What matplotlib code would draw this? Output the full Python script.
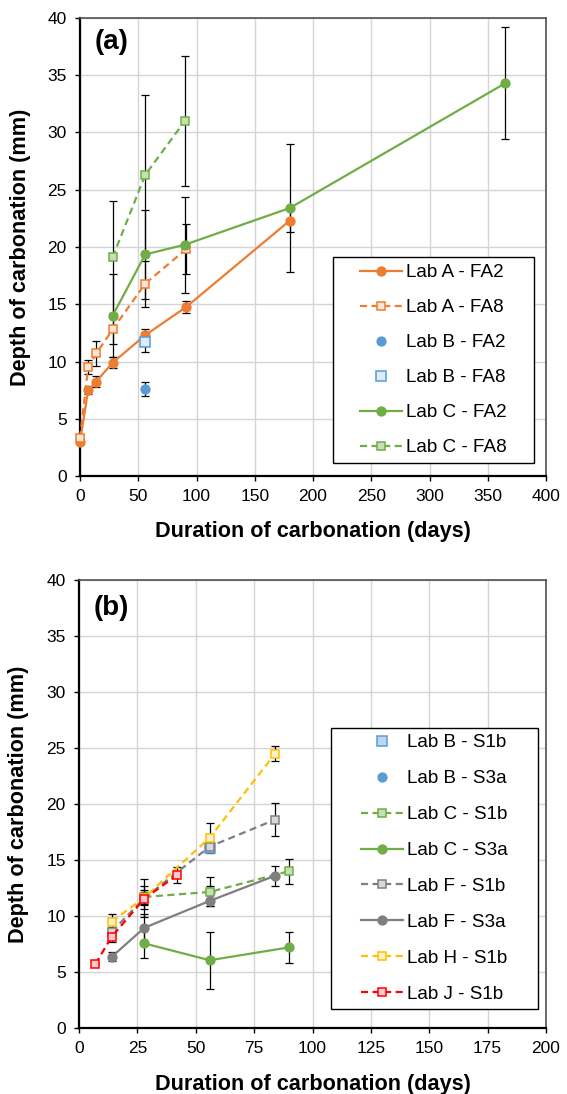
import numpy as np
import matplotlib
matplotlib.use("Agg")
import matplotlib.pyplot as plt
from matplotlib.patches import Rectangle

plt.rcParams['font.family'] = ['Liberation Sans', 'DejaVu Sans']

# ---- panel (a) data ----
a_days_A = [0, 7, 14, 28, 56, 91, 180]
a_A_FA2 = [3.0, 7.5, 8.25, 9.9, 12.3, 14.75, 22.3]
a_A_FA2_err = [0.2, 0.3, 0.5, 0.5, 0.5, 0.55, 1.0]
a_days_A8 = [0, 7, 14, 28, 56, 91]
a_A_FA8 = [3.3, 9.5, 10.7, 12.8, 16.8, 19.8]
a_A_FA8_err = [0.3, 0.6, 1.1, 1.3, 2.0, 2.2]
a_days_B = [56]
a_B_FA2 = [7.6]
a_B_FA2_err = [0.6]
a_B_FA8 = [11.7]
a_B_FA8_err = [0.9]
a_days_C2 = [28, 56, 90, 180, 365]
a_C_FA2 = [14.0, 19.35, 20.2, 23.4, 34.3]
a_C_FA2_err = [3.6, 3.9, 4.2, 5.6, 4.9]
a_days_C8 = [28, 56, 90]
a_C_FA8 = [19.1, 26.3, 31.0]
a_C_FA8_err = [4.9, 7.0, 5.7]

# ---- panel (b) data ----
b_days_B = [56]
b_B_S1b = [16.1]
b_B_S1b_err = [0.5]
b_B_S3a = [12.15]
b_B_S3a_err = [1.3]
b_days_C = [28, 56, 90]
b_C_S1b = [11.7, 12.15, 14.0]
b_C_S1b_err = [0.6, 0.5, 1.1]
b_C_S3a = [7.55, 6.05, 7.2]
b_C_S3a_err = [1.3, 2.55, 1.4]
b_days_F = [14, 28, 56, 84]
b_F_S1b = [8.6, 11.6, 16.2, 18.6]
b_F_S1b_err = [0.4, 1.7, 0.5, 1.5]
b_F_S3a = [6.35, 8.95, 11.35, 13.6]
b_F_S3a_err = [0.4, 1.25, 0.5, 0.9]
b_days_H = [14, 28, 56, 84]
b_H_S1b = [9.5, 11.65, 17.0, 24.5]
b_H_S1b_err = [0.7, 1.0, 1.3, 0.7]
b_days_J = [7, 14, 28, 42]
b_J_S1b = [5.7, 8.15, 11.55, 13.65]
b_J_S1b_err = [0.1, 0.5, 0.6, 0.7]

# colours (Excel palette)
orange = '#ED7D31'
blue = '#5B9BD5'
green = '#70AD47'
gray = '#7F7F7F'
yellow = '#FFC000'
red = '#FF0000'

dash = (0, (3.2, 2.0))


def series(ax, x, y, err, label, color, marker, ls, face=None, ms=6.3):
    # error bars first, then the line with markers on top
    ax.errorbar(x, y, yerr=err, fmt='none', ecolor='black', elinewidth=0.9,
                capsize=2.6, capthick=0.9, zorder=2, clip_on=False)
    if face is None:
        face = color
    ax.plot(x, y, linestyle=ls, color=color, linewidth=1.6, marker=marker,
            markersize=ms, markerfacecolor=face, markeredgecolor=color,
            markeredgewidth=1.1, label=label, zorder=3, clip_on=False)


def style_axes(ax, xmax, xstep, tag, tag_y, xlab_y):
    ax.set_xlim(0, xmax)
    ax.set_ylim(0, 40)
    ax.set_xticks(np.arange(0, xmax + 1, xstep))
    ax.set_yticks(np.arange(0, 41, 5))
    ax.grid(True, color='#D4D4D4', linewidth=1.0, zorder=0)
    ax.set_axisbelow(True)
    for s in ['left', 'bottom']:
        ax.spines[s].set_linewidth(1.6)
        ax.spines[s].set_color('black')
    for s in ['top', 'right']:
        ax.spines[s].set_linewidth(1.2)
        ax.spines[s].set_color('#505050')
    ax.tick_params(direction='out', length=3.6, width=1, labelsize=12.5, pad=6)
    ax.set_xlabel('Duration of carbonation (days)', fontsize=15.6,
                  fontweight='bold')
    ax.set_ylabel('Depth of carbonation (mm)', fontsize=15.6,
                  fontweight='bold')
    ax.xaxis.set_label_coords(0.5, xlab_y)
    ax.yaxis.set_label_coords(-0.106, 0.5)
    ax.text(0.032, tag_y, tag, transform=ax.transAxes, fontsize=20,
            fontweight='bold', va='top', ha='left')


def legend_box(ax, x0, y0, x1, y1, cx, cy, spacing):
    # Excel style legend: square black frame, entries centred in it
    ax.add_patch(Rectangle((x0, y0), x1 - x0, y1 - y0, transform=ax.transAxes,
                           facecolor='white', edgecolor='black', linewidth=1.0,
                           zorder=5))
    leg = ax.legend(loc='center', bbox_to_anchor=(cx, cy), borderaxespad=0,
                    borderpad=0, fontsize=13.6, frameon=False, handlelength=2.2,
                    labelspacing=spacing, handletextpad=0.2)
    leg.set_zorder(6)


fig = plt.figure(figsize=(5.67, 10.94), dpi=100)
ax1 = fig.add_axes([80 / 567, 1 - 476 / 1094, 466 / 567, 458 / 1094])
ax2 = fig.add_axes([79 / 567, 1 - 1028 / 1094, 467 / 567, 448 / 1094])

# panel (a)
series(ax1, a_days_A, a_A_FA2, a_A_FA2_err, 'Lab A - FA2', orange, 'o', '-')
series(ax1, a_days_A8, a_A_FA8, a_A_FA8_err, 'Lab A - FA8', orange, 's', dash,
       face='#FBE5D6', ms=5.6)
series(ax1, a_days_B, a_B_FA2, a_B_FA2_err, 'Lab B - FA2', blue, 'o', 'none')
series(ax1, a_days_B, a_B_FA8, a_B_FA8_err, 'Lab B - FA8', blue, 's', 'none',
       face='#DDEBF7', ms=6.5)
series(ax1, a_days_C2, a_C_FA2, a_C_FA2_err, 'Lab C - FA2', green, 'o', '-')
series(ax1, a_days_C8, a_C_FA8, a_C_FA8_err, 'Lab C - FA8', green, 's', dash,
       face='#C5E0B4', ms=5.6)
style_axes(ax1, 400, 50, '(a)', 0.976, -0.098)
legend_box(ax1, 0.542, 0.028, 0.974, 0.479, 0.758, 0.253, 0.94)

# panel (b)
series(ax2, b_days_B, b_B_S1b, b_B_S1b_err, 'Lab B - S1b', blue, 's', 'none',
       face='#BDD7EE', ms=6.5)
series(ax2, b_days_B, b_B_S3a, b_B_S3a_err, 'Lab B - S3a', blue, 'o', 'none')
series(ax2, b_days_C, b_C_S1b, b_C_S1b_err, 'Lab C - S1b', green, 's', dash,
       face='#C5E0B4', ms=5.6)
series(ax2, b_days_C, b_C_S3a, b_C_S3a_err, 'Lab C - S3a', green, 'o', '-')
series(ax2, b_days_F, b_F_S1b, b_F_S1b_err, 'Lab F - S1b', gray, 's', dash,
       face='#D9D9D9', ms=5.6)
series(ax2, b_days_F, b_F_S3a, b_F_S3a_err, 'Lab F - S3a', gray, 'o', '-')
series(ax2, b_days_H, b_H_S1b, b_H_S1b_err, 'Lab H - S1b', yellow, 's', dash,
       face='#FFF2CC', ms=5.6)
series(ax2, b_days_J, b_J_S1b, b_J_S1b_err, 'Lab J - S1b', red, 's', dash,
       face='#FFC7CE', ms=5.6)
style_axes(ax2, 200, 25, '(b)', 0.966, -0.103)
legend_box(ax2, 0.540, 0.042, 0.983, 0.670, 0.761, 0.356, 0.99)

fig.savefig('out.png', dpi=100)
